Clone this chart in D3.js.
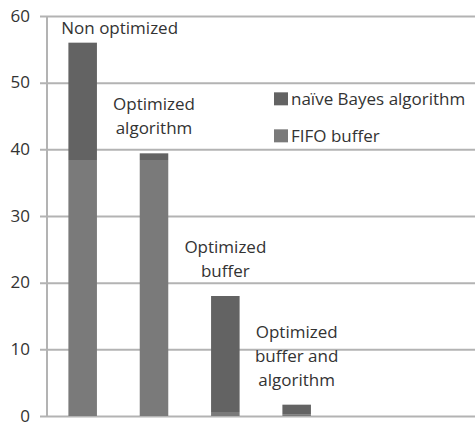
<!DOCTYPE html>
<html>
<head>
<meta charset="utf-8">
<script src="https://cdn.jsdelivr.net/npm/d3@7"></script>
<style>
  body { margin: 0; background: #fff; }
  svg { display: block; font-family: 'Open Sans', sans-serif; }
</style>
</head>
<body>
<svg id="chart" width="476" height="423"></svg>
<script>
'use strict'

// data
const categories = ['Non optimized', 'Optimized\nalgorithm', 'Optimized\nbuffer', 'Optimized\nbuffer and\nalgorithm']
const slots = 6 // the axis leaves room for six bars, only four are used
const fifoBuffer = [38.4, 38.4, 0.6, 0.2]
const bayesAlgorithm = [17.6, 1.0, 17.4, 1.5]
const seriesNames = ['naïve Bayes algorithm', 'FIFO buffer']
const yTicks = [0, 10, 20, 30, 40, 50, 60]

const colors = { 'naïve Bayes algorithm': '#636363', 'FIFO buffer': '#7a7a7a' }

const svg = d3.select('#chart')
const margin = { top: 16, right: 1, bottom: 7, left: 47 }
const width = 476 - margin.left - margin.right
const height = 423 - margin.top - margin.bottom

const g = svg.append('g').attr('transform', `translate(${margin.left}, ${margin.top})`)

const x = d3.scaleBand().domain(d3.range(slots)).range([0, width]).paddingInner(0.6).paddingOuter(0.3)
const y = d3.scaleLinear().domain([0, 60]).range([height, 0])

// grid + ticks
g.append('g')
    .attr('class', 'axis')
    .call(d3.axisLeft(y).tickValues(yTicks).tickSize(-width - 7))
    .call(a => a.select('.domain').remove())
    .call(a => a.selectAll('.tick line').attr('x1', -7).attr('x2', width).attr('stroke', '#b3b3b3').attr('stroke-width', 2))
    .call(a => a.selectAll('.tick text').attr('x', -17).attr('dy', '.3em').attr('fill', '#333').attr('font-size', '17px').attr('font-family', "'Open Sans', sans-serif"))

g.append('line')
    .attr('x1', 0).attr('x2', 0)
    .attr('y1', 0).attr('y2', height)
    .attr('stroke', '#b3b3b3').attr('stroke-width', 2)

const table = categories.map((c, i) => ({ key: i, 'FIFO buffer': fifoBuffer[i], 'naïve Bayes algorithm': bayesAlgorithm[i] }))
const stack = d3.stack().keys(['FIFO buffer', 'naïve Bayes algorithm'])(table)

g.append('g')
    .selectAll('g')
    .data(stack)
    .enter()
    .append('g')
    .attr('fill', d => colors[d.key])
    .selectAll('rect')
    .data(d => d)
    .enter()
    .append('rect')
    .attr('x', d => x(d.data.key))
    .attr('y', d => y(d[1]))
    .attr('width', x.bandwidth())
    .attr('height', d => y(d[0]) - y(d[1]))

// category labels sit above each bar
const labels = g.append('g')
    .attr('font-size', '17px')
    .attr('fill', '#333')
    .attr('text-anchor', 'middle')
    .selectAll('text')
    .data(categories)
    .enter()
    .append('text')
    .attr('transform', (d, i) => {
        let total = fifoBuffer[i] + bayesAlgorithm[i]
        let lines = d.split('\n').length
        let cx = x(i) + x.bandwidth() / 2
        let base = y(total) - 19 - (lines - 1) * 24
        // first label would leave the plot, so it sits beside the top of the bar
        if (i === 0) { cx += 37; base = y(total) - 9 }
        return `translate(${cx}, ${base})`
    })

labels.selectAll('tspan')
    .data(d => d.split('\n'))
    .enter()
    .append('tspan')
    .attr('x', 0)
    .attr('dy', (d, i) => i === 0 ? 0 : 24)
    .text(d => d)

// legend
const legend = g.append('g')
    .attr('font-size', '17px')
    .selectAll('g')
    .data(seriesNames)
    .enter()
    .append('g')
    .attr('transform', (d, i) => `translate(${227}, ${y(47.5) + i * 37})`)

legend.append('rect')
    .attr('x', 0)
    .attr('y', -7)
    .attr('width', 14)
    .attr('height', 13)
    .attr('fill', d => colors[d])

legend.append('text')
    .attr('x', 17)
    .attr('y', 0)
    .attr('dy', '.35em')
    .attr('fill', '#333')
    .text(d => d)
</script>
</body>
</html>
